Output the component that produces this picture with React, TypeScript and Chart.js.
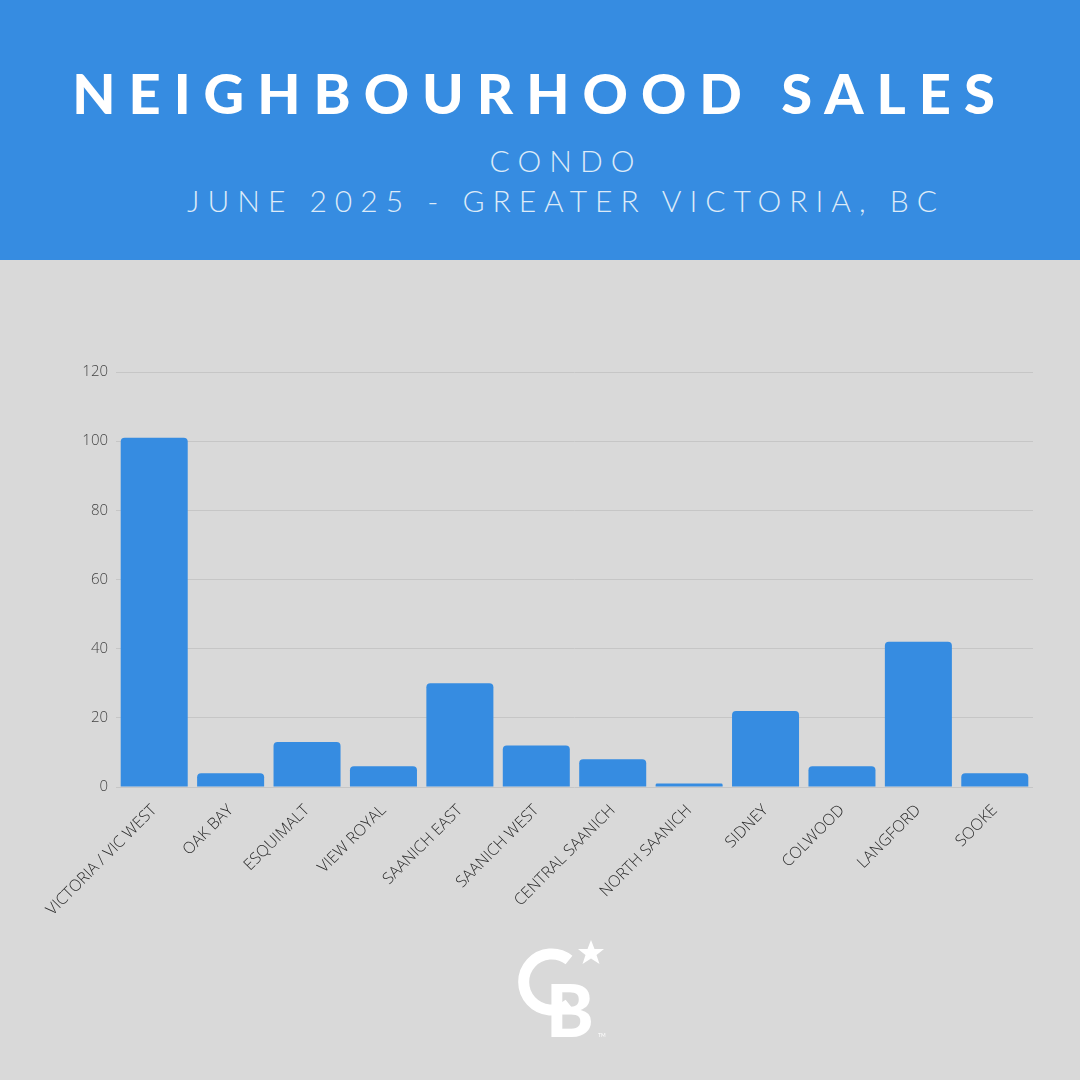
import React, { useEffect, useRef } from "react";
import { Chart, registerables } from "chart.js";

Chart.register(...registerables);

const categories = [
  "VICTORIA / VIC WEST",
  "OAK BAY",
  "ESQUIMALT",
  "VIEW ROYAL",
  "SAANICH EAST",
  "SAANICH WEST",
  "CENTRAL SAANICH",
  "NORTH SAANICH",
  "SIDNEY",
  "COLWOOD",
  "LANGFORD",
  "SOOKE",
];
const sales = [101, 4, 13, 6, 30, 12, 8, 1, 22, 6, 42, 4];
const yTicks = [0, 20, 40, 60, 80, 100, 120];

const BLUE = "#368CE1";
const BG = "#D9D9D9";

export default function App() {
  const canvasRef = useRef<HTMLCanvasElement | null>(null);

  useEffect(() => {
    document.body.style.margin = "0";
    const ctx = canvasRef.current;
    if (!ctx) return;
    const chart = new Chart(ctx, {
      type: "bar",
      data: {
        labels: categories,
        datasets: [
          {
            data: sales,
            backgroundColor: BLUE,
            borderWidth: 0,
            borderRadius: { topLeft: 4, topRight: 4, bottomLeft: 0, bottomRight: 0 },
            borderSkipped: "bottom",
            barPercentage: 0.877,
            categoryPercentage: 1,
          },
        ],
      },
      options: {
        animation: false,
        responsive: false,
        maintainAspectRatio: false,
        layout: { padding: { left: 38, right: 47, top: 112, bottom: 0 } },
        plugins: { legend: { display: false }, tooltip: { enabled: false } },
        scales: {
          x: {
            grid: { display: false },
            border: { display: false },
            afterFit: (s: any) => {
              s.height = 173;
            },
            ticks: {
              maxRotation: 45,
              minRotation: 45,
              autoSkip: false,
              color: "#2A2A2A",
              padding: 6,
              font: { family: "'Open Sans'", size: 16, weight: 300 as any },
            },
          },
          y: {
            min: 0,
            max: 120,
            afterFit: (s: any) => {
              s.width = 78;
            },
            afterBuildTicks: (s: any) => {
              s.ticks = yTicks.map((v) => ({ value: v }));
            },
            grid: { color: "#C6C6C6", lineWidth: 1, drawTicks: false },
            border: { display: false },
            ticks: {
              padding: 8,
              color: "#444444",
              font: { family: "'Open Sans'", size: 15, weight: 300 as any },
            },
          },
        },
      },
    });
    return () => chart.destroy();
  }, []);

  return (
    <div
      style={{
        position: "absolute",
        left: 0,
        top: 0,
        width: 1080,
        height: 1080,
        background: BG,
        overflow: "hidden",
      }}
    >
      <div
        style={{
          position: "absolute",
          left: 0,
          top: 0,
          width: 1080,
          height: 260,
          background: BLUE,
        }}
      >
        <div
          style={{
            position: "absolute",
            top: 58,
            left: 0,
            width: 1080,
            textAlign: "center",
            color: "#FFFFFF",
            fontFamily: "Lato, sans-serif",
            fontWeight: 900,
            fontSize: 56,
            letterSpacing: 13,
            lineHeight: "70px",
            paddingLeft: 0,
            boxSizing: "border-box",
          }}
        >
          NEIGHBOURHOOD SALES
        </div>
        <div
          style={{
            position: "absolute",
            top: 140,
            left: 0,
            width: 1080,
            textAlign: "center",
            color: "#DCEAF8",
            fontFamily: "Lato, sans-serif",
            fontWeight: 300,
            fontSize: 30,
            letterSpacing: 8,
            lineHeight: "40px",
            paddingLeft: 52,
            boxSizing: "border-box",
          }}
        >
          CONDO
          <br />
          JUNE 2025 - GREATER VICTORIA, BC
        </div>
      </div>
      <canvas
        ref={canvasRef}
        width={1080}
        height={700}
        style={{ position: "absolute", left: 0, top: 260, width: 1080, height: 700 }}
      />
      <svg
        width={1080}
        height={1080}
        style={{ position: "absolute", left: 0, top: 0, pointerEvents: "none" }}
      >
        <path
          d="M 569 960 A 28 28 0 1 0 569 1004"
          fill="none"
          stroke="#FFFFFF"
          strokeWidth={11}
        />
        <text
          x={546}
          y={1037}
          fill="#FFFFFF"
          fontFamily="Lato, sans-serif"
          fontWeight={900}
          fontSize={72}
        >
          B
        </text>
        <polygon
          points="591,940 594.5,949 604,949 596.5,955 599.5,964 591,958.5 582.5,964 585.5,955 578,949 587.5,949"
          fill="#FFFFFF"
        />
        <text x={598} y={1037} fill="#FFFFFF" fontSize={5} fontFamily="Lato">
          TM
        </text>
      </svg>
    </div>
  );
}
